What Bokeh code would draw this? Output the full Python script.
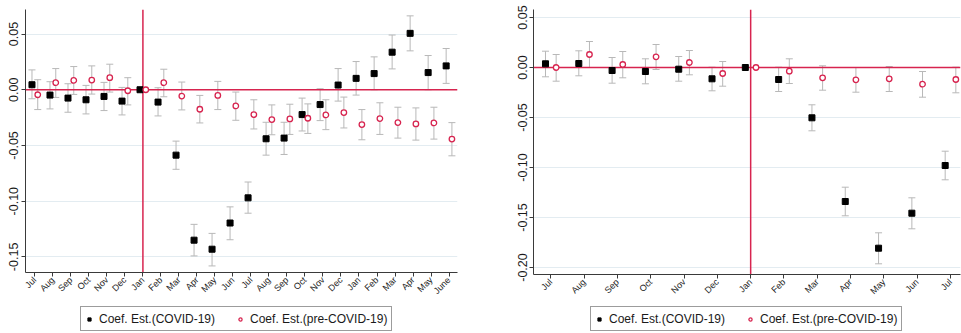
import math

from bokeh.embed import file_html
from bokeh.layouts import column, row
from bokeh.models import (ColumnDataSource, FixedTicker, Legend, LegendItem,
                          PrintfTickFormatter, Range1d, Span, TeeHead, Whisker)
from bokeh.plotting import figure
from bokeh.resources import INLINE

# ---- Panel 1: monthly event-study coefficients, Jul .. June (24 months) ----
months_left = ["Jul", "Aug", "Sep", "Oct", "Nov", "Dec", "Jan", "Feb", "Mar",
               "Apr", "May", "Jun", "Jul", "Aug", "Sep", "Oct", "Nov", "Dec",
               "Jan", "Feb", "Mar", "Apr", "May", "June"]

covid_left = [0.0045, -0.0048, -0.0075, -0.0090, -0.0060, -0.0102, 0.0000,
              -0.0111, -0.0587, -0.1350, -0.1431, -0.1196, -0.0970, -0.0440,
              -0.0434, -0.0223, -0.0133, 0.0042, 0.0102, 0.0145, 0.0337,
              0.0506, 0.0154, 0.0214]
covid_left_lo = [-0.0081, -0.0172, -0.0202, -0.0217, -0.0187, -0.0226, 0.0000,
                 -0.0235, -0.0714, -0.1491, -0.1581, -0.1346, -0.1108, -0.0587,
                 -0.0581, -0.0370, -0.0277, -0.0102, -0.0048, 0.0000, 0.0187,
                 0.0349, 0.0000, 0.0057]
covid_left_hi = [0.0178, 0.0072, 0.0054, 0.0039, 0.0066, 0.0021, 0.0000,
                 0.0018, -0.0461, -0.1208, -0.1289, -0.1051, -0.0828, -0.0292,
                 -0.0292, -0.0075, 0.0009, 0.0190, 0.0253, 0.0295, 0.0491,
                 0.0663, 0.0307, 0.0370]

pre_left = [-0.0045, 0.0063, 0.0084, 0.0087, 0.0108, -0.0009, 0.0000, 0.0063,
            -0.0057, -0.0175, -0.0051, -0.0145, -0.0223, -0.0268, -0.0262,
            -0.0256, -0.0226, -0.0205, -0.0313, -0.0259, -0.0295, -0.0307,
            -0.0298, -0.0443]
pre_left_lo = [-0.0178, -0.0069, -0.0042, -0.0039, -0.0021, -0.0136, 0.0000,
               -0.0063, -0.0181, -0.0298, -0.0178, -0.0274, -0.0352, -0.0404,
               -0.0401, -0.0392, -0.0358, -0.0343, -0.0449, -0.0401, -0.0434,
               -0.0452, -0.0443, -0.0593]
pre_left_hi = [0.0090, 0.0190, 0.0208, 0.0214, 0.0229, 0.0108, 0.0000, 0.0184,
               0.0069, -0.0051, 0.0075, -0.0021, -0.0090, -0.0136, -0.0130,
               -0.0127, -0.0090, -0.0066, -0.0178, -0.0117, -0.0157, -0.0163,
               -0.0157, -0.0295]

yticks_left = [0.05, 0.0, -0.05, -0.10, -0.15]

# ---- Panel 2: monthly event-study coefficients, Jul .. Jul (13 months) ----
months_right = ["Jul", "Aug", "Sep", "Oct", "Nov", "Dec", "Jan", "Feb", "Mar",
                "Apr", "May", "Jun", "Jul"]

covid_right = [0.0037, 0.0040, -0.0030, -0.0040, -0.0017, -0.0113, 0.0000,
               -0.0120, -0.0503, -0.1340, -0.1807, -0.1457, -0.0980]
covid_right_lo = [-0.0093, -0.0083, -0.0157, -0.0163, -0.0137, -0.0233, 0.0000,
                  -0.0240, -0.0633, -0.1483, -0.1963, -0.1613, -0.1123]
covid_right_hi = [0.0163, 0.0167, 0.0100, 0.0087, 0.0110, 0.0003, 0.0000,
                  0.0003, -0.0373, -0.1197, -0.1653, -0.1303, -0.0837]

pre_right = [0.0000, 0.0130, 0.0030, 0.0107, 0.0050, -0.0060, 0.0000, -0.0037,
             -0.0103, -0.0123, -0.0113, -0.0167, -0.0120]
pre_right_lo = [-0.0137, 0.0000, -0.0103, -0.0020, -0.0073, -0.0187, 0.0000,
                -0.0160, -0.0227, -0.0247, -0.0240, -0.0297, -0.0253]
pre_right_hi = [0.0130, 0.0260, 0.0160, 0.0230, 0.0170, 0.0060, 0.0000, 0.0087,
                0.0017, 0.0000, 0.0010, -0.0040, 0.0003]

yticks_right = [0.05, 0.0, -0.05, -0.10, -0.15, -0.20]

legend_labels = ["Coef. Est.(COVID-19)", "Coef. Est.(pre-COVID-19)"]

# index of the reference month (first "Jan")
event_month = months_left.index("Jan")

RED = "#d7244f"
BAR = "#b8b8b8"
FONT = "Liberation Sans"
SHIFT = 0.16  # horizontal dodge between the two series

COVID_STYLE = dict(marker="square", size=6, fill_color="black",
                   line_color="black")
PRE_STYLE = dict(marker="circle", size=5.5, fill_color="white",
                 line_color=RED, line_width=1.3)


def panel(months, covid, covid_lo, covid_hi, pre, pre_lo, pre_hi, yticks,
          y_range, x_end, width, border_left, border_right):
    n = len(months)
    idx = list(range(n))
    p = figure(width=width, height=302, output_backend="svg",
               toolbar_location=None,
               x_range=Range1d(-0.52, x_end), y_range=Range1d(*y_range),
               min_border_left=border_left, min_border_right=border_right,
               min_border_top=9, min_border_bottom=28)
    p.outline_line_color = None
    p.background_fill_color = "white"

    src_c = ColumnDataSource(dict(x=[i - SHIFT for i in idx], y=covid,
                                  lo=covid_lo, hi=covid_hi))
    src_p = ColumnDataSource(dict(x=[i + SHIFT for i in idx], y=pre,
                                  lo=pre_lo, hi=pre_hi))

    # confidence-interval bars
    for src in (src_c, src_p):
        w = Whisker(base="x", lower="lo", upper="hi", source=src,
                    line_color=BAR, line_width=1,
                    lower_head=TeeHead(size=7, line_color=BAR, line_width=1),
                    upper_head=TeeHead(size=7, line_color=BAR, line_width=1),
                    level="underlay")
        p.add_layout(w)

    # reference lines: zero effect and the base month
    p.add_layout(Span(location=0, dimension="width", line_color=RED,
                      line_width=1.5, level="underlay"))
    p.add_layout(Span(location=event_month, dimension="height",
                      line_color=RED, line_width=1.5, level="underlay"))

    p.scatter("x", "y", source=src_c, **COVID_STYLE)
    p.scatter("x", "y", source=src_p, **PRE_STYLE)

    # axes
    p.xaxis.ticker = FixedTicker(ticks=idx)
    p.xaxis.major_label_overrides = {i: m for i, m in enumerate(months)}
    p.xaxis.major_label_orientation = math.pi / 4
    p.yaxis.ticker = FixedTicker(ticks=yticks)
    p.yaxis.formatter = PrintfTickFormatter(format="%.2f")
    p.yaxis.major_label_orientation = "vertical"
    for ax in (p.xaxis, p.yaxis):
        ax.axis_line_color = "#3a3a3a"
        ax.axis_line_width = 1
        ax.major_tick_line_color = "#3a3a3a"
        ax.major_tick_out = 4
        ax.major_tick_in = 0
        ax.minor_tick_line_color = None
        ax.major_label_text_font = FONT
        ax.major_label_text_color = "#1a1a1a"
    p.xaxis.major_label_text_font_size = "9px"
    p.yaxis.major_label_text_font_size = "12.5px"
    p.xaxis.major_label_standoff = 2
    p.yaxis.major_label_standoff = 3

    p.xgrid.grid_line_color = None
    p.ygrid.grid_line_color = "#e3ecf1"
    p.ygrid.grid_line_width = 1
    return p


def legend_strip(width, box_x):
    # a thin plot that only carries the boxed legend under each panel;
    # box_x is measured from the panel's frame edge (frames are aligned)
    q = figure(width=width, height=31, output_backend="svg",
               toolbar_location=None, x_range=Range1d(0, 1),
               y_range=Range1d(0, 1), min_border=0,
               x_axis_location=None, y_axis_location=None)
    q.grid.visible = False
    q.outline_line_color = None
    # key renderers: their single point lies outside the strip's ranges
    r_c = q.scatter([-5], [-5], **COVID_STYLE)
    r_p = q.scatter([-5], [-5], **PRE_STYLE)
    legend = Legend(items=[
        LegendItem(label=legend_labels[0], renderers=[r_c]),
        LegendItem(label=legend_labels[1], renderers=[r_p]),
    ], orientation="horizontal", location=(box_x, 2))
    legend.label_text_font = FONT
    legend.label_text_font_size = "12px"
    legend.label_text_color = "#1a1a1a"
    legend.label_height = 15
    legend.border_line_color = "#3a3a3a"
    legend.border_line_width = 1
    legend.background_fill_color = "white"
    legend.glyph_width = 8
    legend.glyph_height = 10
    legend.spacing = 21
    legend.padding = 4
    legend.margin = 0
    legend.label_standoff = 6
    q.add_layout(legend, "center")
    return q


left = panel(months_left, covid_left, covid_left_lo, covid_left_hi,
             pre_left, pre_left_lo, pre_left_hi, yticks_left,
             (-0.164, 0.072), 23.47, 480, 25, 23)
right = panel(months_right, covid_right, covid_right_lo, covid_right_hi,
              pre_right, pre_right_lo, pre_right_hi, yticks_right,
              (-0.207, 0.058), 12.3, 481, 53, 1)

layout = row(column(left, legend_strip(480, 55)),
             column(right, legend_strip(481, 57)))
open("out.html", "w").write(file_html(layout, INLINE))
